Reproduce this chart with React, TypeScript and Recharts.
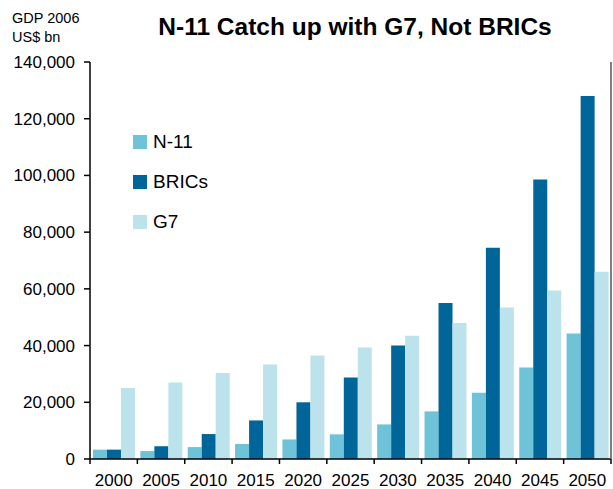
import React from "react";
import {
  BarChart,
  Bar,
  XAxis,
  YAxis,
} from "recharts";

const years = ["2000", "2005", "2010", "2015", "2020", "2025", "2030", "2035", "2040", "2045", "2050"];
const n11 = [3300, 2800, 4200, 5300, 6900, 8700, 12200, 16800, 23400, 32300, 44300];
const brics = [3300, 4500, 8800, 13600, 20000, 28700, 40000, 55000, 74500, 98600, 128000];
const g7 = [25000, 27000, 30300, 33300, 36500, 39300, 43500, 48000, 53400, 59400, 66000];
const yTicks = [0, 20000, 40000, 60000, 80000, 100000, 120000, 140000];

const series = [
  { key: "n11", name: "N-11", color: "#6FC3D8" },
  { key: "brics", name: "BRICs", color: "#006699" },
  { key: "g7", name: "G7", color: "#BCE3EC" },
];

const data = years.map((year, i) => ({
  year,
  n11: n11[i],
  brics: brics[i],
  g7: g7[i],
}));

const FONT = "'Liberation Sans', Arial, sans-serif";

function YearTick(props: any) {
  const { x, y, width, visibleTicksCount, index, payload } = props;
  const half = width / visibleTicksCount / 2;
  return (
    <g>
      <line x1={x - half} y1={y} x2={x - half} y2={y + 5} stroke="#000" strokeWidth={1.5} />
      {index === visibleTicksCount - 1 && (
        <line x1={x + half} y1={y} x2={x + half} y2={y + 5} stroke="#000" strokeWidth={1.5} />
      )}
      <text x={x} y={y + 27} textAnchor="middle" fontSize={17} fill="#000" fontFamily={FONT}>
        {payload.value}
      </text>
    </g>
  );
}

export default function App() {
  return (
    <div style={{ position: "absolute", left: 0, top: 0, width: 613, height: 489, background: "#fff", fontFamily: FONT }}>
      <div style={{ position: "absolute", left: 12, top: 9, fontSize: 14.5, lineHeight: "19px", color: "#000" }}>
        GDP 2006
        <br />
        US$ bn
      </div>
      <div
        style={{
          position: "absolute",
          left: 90,
          width: 530,
          top: 13,
          textAlign: "center",
          fontSize: 24.5,
          fontWeight: 700,
          color: "#000",
        }}
      >
        N-11 Catch up with G7, Not BRICs
      </div>
      <BarChart
        width={613}
        height={489}
        data={data}
        margin={{ top: 62, right: 0, bottom: 0, left: 0 }}
        barCategoryGap="6.3%"
        barGap={0}
      >
        <XAxis
          dataKey="year"
          tickLine={false}
          tickSize={0}
          tickMargin={0}
          height={30}
          axisLine={{ stroke: "#000", strokeWidth: 1.5 }}
          tick={<YearTick />}
          interval={0}
        />
        <XAxis xAxisId="top" orientation="top" dataKey="year" height={0} tick={false} tickLine={false} axisLine={{ stroke: "#000", strokeWidth: 1.5 }} />
        <YAxis
          width={90}
          domain={[0, 140000]}
          ticks={yTicks}
          tickFormatter={(v: number) => v.toLocaleString("en-US")}
          tick={{ fontSize: 17, fill: "#000", fontFamily: FONT }}
          tickSize={6}
          tickMargin={9}
          tickLine={{ stroke: "#000", strokeWidth: 1.5 }}
          axisLine={{ stroke: "#000", strokeWidth: 1.5 }}
        />
        <YAxis yAxisId="right" orientation="right" width={2} domain={[0, 140000]} tick={false} tickLine={false} axisLine={{ stroke: "#555", strokeWidth: 1.5 }} />
        {series.map((s) => (
          <Bar key={s.key} dataKey={s.key} name={s.name} fill={s.color} isAnimationActive={false} />
        ))}
      </BarChart>
      <div style={{ position: "absolute", left: 133, top: 122 }}>
        {series.map((s) => (
          <div key={s.key} style={{ display: "flex", alignItems: "center", height: 40 }}>
            <span style={{ width: 14, height: 14, background: s.color, display: "inline-block", marginRight: 6 }} />
            <span style={{ fontSize: 19, color: "#000" }}>{s.name}</span>
          </div>
        ))}
      </div>
    </div>
  );
}
